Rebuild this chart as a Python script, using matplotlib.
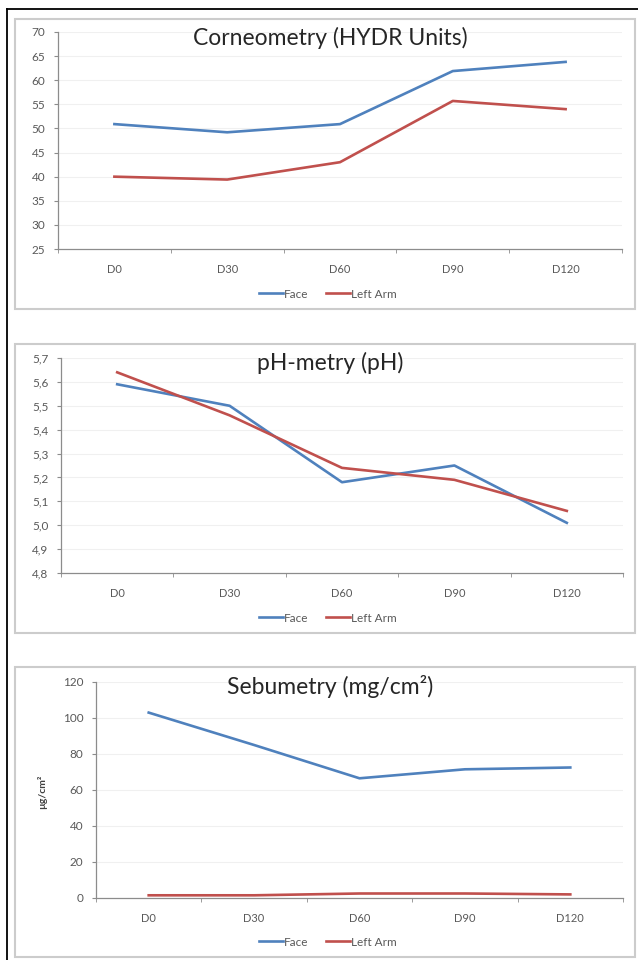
import matplotlib
matplotlib.use('Agg')
import matplotlib.pyplot as plt
from matplotlib.patches import Rectangle
from matplotlib.lines import Line2D
from matplotlib.ticker import FuncFormatter, FixedLocator

plt.rcParams['font.family'] = ['Lato', 'DejaVu Sans']

days = ['D0', 'D30', 'D60', 'D90', 'D120']

# Corneometry (HYDR units)
corneo_face = [50.9, 49.2, 50.9, 61.9, 63.8]
corneo_arm = [40.0, 39.4, 43.0, 55.7, 54.0]

# pH-metry
ph_face = [5.59, 5.50, 5.18, 5.25, 5.01]
ph_arm = [5.64, 5.46, 5.24, 5.19, 5.06]

# Sebumetry
sebum_face = [103.0, 85.0, 66.5, 71.5, 72.5]
sebum_arm = [1.5, 1.5, 2.5, 2.5, 2.0]

W, H = 638, 960
BLUE = '#4F81BD'
RED = '#C0504D'
AXC = '#8c8c8c'
TXT = '#595959'

fig = plt.figure(figsize=(W / 100, H / 100), dpi=100)
fig.patch.set_facecolor('white')


def px_rect(x0, y0, x1, y1, **kw):
    # rectangle in pixel coords (y from top)
    r = Rectangle((x0 / W, 1 - y1 / H), (x1 - x0) / W, (y1 - y0) / H,
                  transform=fig.transFigure, fill=False, **kw)
    fig.add_artist(r)


def px_line(xs, ys, **kw):
    fig.add_artist(Line2D([x / W for x in xs], [1 - y / H for y in ys],
                          transform=fig.transFigure, **kw))


def make_axes(x0, x1, ytop, ybot):
    return fig.add_axes([x0 / W, 1 - ybot / H, (x1 - x0) / W, (ybot - ytop) / H])


# outer border (only top and left visible) and panel boxes
px_line([7, 638], [9, 9], color='black', linewidth=1.3)
px_line([7, 7], [9, 960], color='black', linewidth=1.3)
for y0, y1 in [(19, 309), (344, 633), (667, 957)]:
    px_rect(15, y0, 635, y1, edgecolor='#cccccc', linewidth=1.5)

panels = [
    dict(face=corneo_face, arm=corneo_arm, box=(58, 622, 32, 249),
         ylim=(25, 70), step=5, fmt=lambda v, p: '%d' % v,
         title='Corneometry (HYDR Units)', title_y=38, leg_y=294),
    dict(face=ph_face, arm=ph_arm, box=(61, 623, 358, 573),
         ylim=(4.8, 5.7), step=0.1, fmt=lambda v, p: ('%.1f' % v).replace('.', ','),
         title='pH-metry (pH)', title_y=363, leg_y=618),
    dict(face=sebum_face, arm=sebum_arm, box=(96, 623, 682, 898),
         ylim=(0, 120), step=20, fmt=lambda v, p: '%d' % v,
         title='Sebumetry (mg/cm\u00b2)', title_y=687, leg_y=942),
]

for p in panels:
    x0, x1, yt, yb = p['box']
    ax = make_axes(x0, x1, yt, yb)
    xs = range(len(days))
    ax.plot(xs, p['face'], color=BLUE, linewidth=1.9, label='Face')
    ax.plot(xs, p['arm'], color=RED, linewidth=1.9, label='Left Arm')
    ax.set_xlim(-0.5, len(days) - 0.5)
    lo, hi = p['ylim']
    ax.set_ylim(lo, hi)
    n = int(round((hi - lo) / p['step']))
    yt_vals = [lo + i * p['step'] for i in range(n + 1)]
    ax.yaxis.set_major_locator(FixedLocator(yt_vals))
    ax.yaxis.set_major_formatter(FuncFormatter(p['fmt']))
    ax.set_xticks(list(xs))
    ax.set_xticklabels(days)
    ax.set_xticks([i - 0.5 for i in range(len(days) + 1)], minor=True)
    ax.tick_params(axis='x', which='major', length=0, pad=11, labelsize=8, labelcolor=TXT)
    ax.tick_params(axis='x', which='minor', length=3, color=AXC, direction='out')
    ax.tick_params(axis='y', length=3, color=AXC, labelsize=8.5, labelcolor=TXT, pad=6)
    for v in yt_vals[1:]:
        ax.axhline(v, color='#f0f0f0', linewidth=0.8, zorder=0)
    for s in ['top', 'right']:
        ax.spines[s].set_visible(False)
    for s in ['left', 'bottom']:
        ax.spines[s].set_color(AXC)
        ax.spines[s].set_linewidth(0.9)
    ax.set_facecolor('none')

    fig.text(330 / W, 1 - p['title_y'] / H, p['title'], ha='center', va='center',
             fontsize=16.5, color='#262626')
    ax.legend(loc='center', bbox_to_anchor=(328 / W, 1 - p['leg_y'] / H),
              bbox_transform=fig.transFigure, ncol=2, frameon=False,
              fontsize=8.5, labelcolor=TXT, handlelength=2.0, handletextpad=0.1,
              columnspacing=1.5)

fig.text(42 / W, 1 - 792 / H, '\u00b5g/cm\u00b2', rotation=90, ha='center', va='center',
         fontsize=7.5, fontweight='bold', color='#404040')

fig.savefig('out.png', dpi=100)
